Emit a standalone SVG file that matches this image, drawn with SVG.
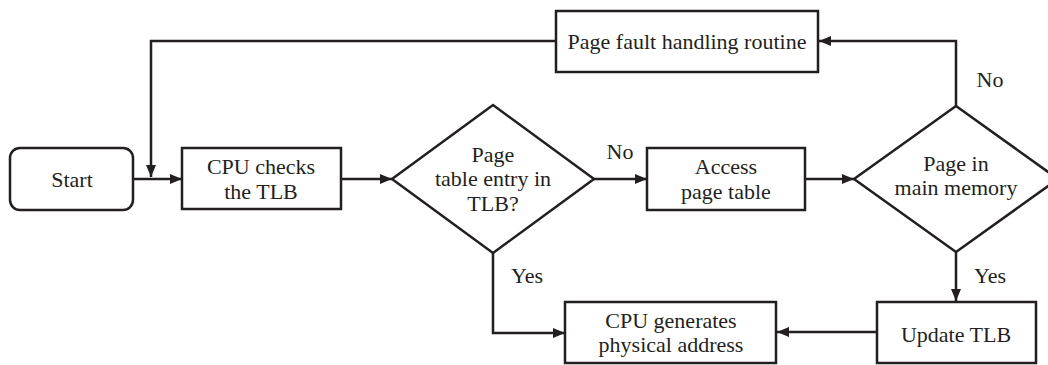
<svg xmlns="http://www.w3.org/2000/svg" width="1048" height="365" viewBox="0 0 1048 365">
  <style>
    .shape { fill: #ffffff; stroke: #231f20; stroke-width: 2.5; }
    .wire { fill: none; stroke: #231f20; stroke-width: 2.5; }
    text { font-family: "Liberation Serif", "Times New Roman", serif; font-size: 22px; fill: #231f20; text-anchor: middle; }
  </style>
  <defs>
    <marker id="arrow" markerUnits="userSpaceOnUse" markerWidth="13" markerHeight="11" refX="12" refY="5" orient="auto">
      <path d="M0,0 L12,5 L0,10 Z" fill="#231f20"/>
    </marker>
  </defs>
  <rect width="1048" height="365" fill="#ffffff"/>

  <!-- connectors -->
  <g id="connectors">
    <path class="wire" d="M133,179 H182" marker-end="url(#arrow)"/>
    <path class="wire" d="M556,41 H151 V177" marker-end="url(#arrow)"/>
    <path class="wire" d="M341,179 H392" marker-end="url(#arrow)"/>
    <path class="wire" d="M594,179 H647" marker-end="url(#arrow)"/>
    <path class="wire" d="M805,179 H854" marker-end="url(#arrow)"/>
    <path class="wire" d="M956,106 V41 H819" marker-end="url(#arrow)"/>
    <path class="wire" d="M956,252 V301" marker-end="url(#arrow)"/>
    <path class="wire" d="M877,332 H777" marker-end="url(#arrow)"/>
    <path class="wire" d="M493,253 V333 H565" marker-end="url(#arrow)"/>
    <text x="620" y="159">No</text>
    <text x="990" y="87">No</text>
    <text x="990" y="283">Yes</text>
    <text x="527" y="283">Yes</text>
  </g>

  <g id="start">
    <rect class="shape" x="10" y="148" width="123" height="62" rx="10"/>
    <text x="72" y="187">Start</text>
  </g>

  <g id="cpu-checks">
    <rect class="shape" x="182" y="148" width="159" height="61"/>
    <text x="261" y="174">CPU checks</text>
    <text x="261" y="199">the TLB</text>
  </g>

  <g id="tlb-decision">
    <polygon class="shape" points="392,179 493,105 594,179 493,253"/>
    <text x="493" y="162">Page</text>
    <text x="493" y="186">table entry in</text>
    <text x="493" y="211">TLB?</text>
  </g>

  <g id="access-table">
    <rect class="shape" x="647" y="148" width="158" height="62"/>
    <text x="726" y="174">Access</text>
    <text x="726" y="199">page table</text>
  </g>

  <g id="memory-decision">
    <polygon class="shape" points="854,179 956,106 1058,179 956,252"/>
    <text x="956" y="171">Page in</text>
    <text x="956" y="195">main memory</text>
  </g>

  <g id="page-fault">
    <rect class="shape" x="556" y="11" width="262" height="61"/>
    <text x="687" y="49">Page fault handling routine</text>
  </g>

  <g id="update-tlb">
    <rect class="shape" x="877" y="302" width="159" height="61"/>
    <text x="956" y="342">Update TLB</text>
  </g>

  <g id="physical-address">
    <rect class="shape" x="565" y="302" width="211" height="61"/>
    <text x="671" y="328">CPU generates</text>
    <text x="671" y="352">physical address</text>
  </g>
</svg>
